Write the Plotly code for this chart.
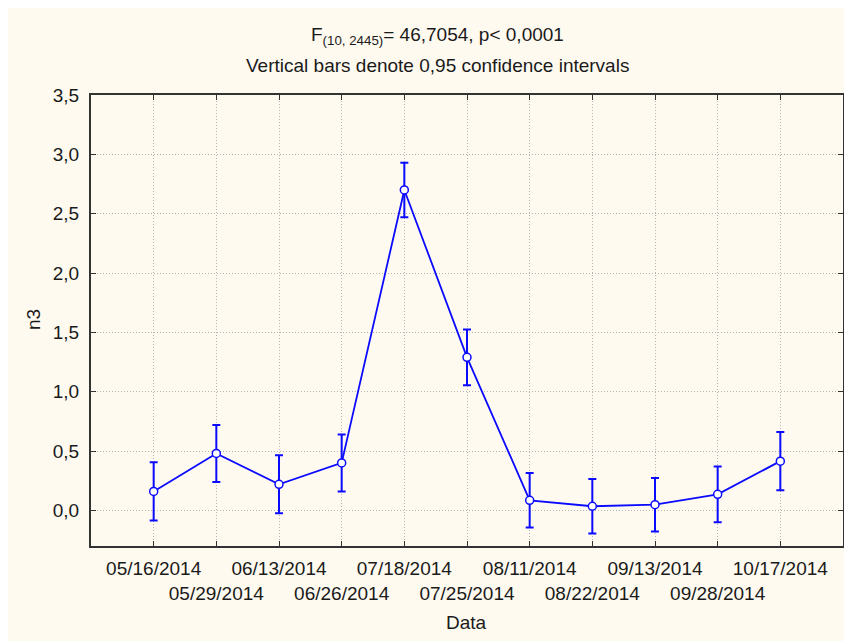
import plotly.graph_objects as go

# category labels (dates) and the means with 0.95 CI half-widths
dates = ["05/16/2014", "05/29/2014", "06/13/2014", "06/26/2014", "07/18/2014",
         "07/25/2014", "08/11/2014", "08/22/2014", "09/13/2014", "09/28/2014",
         "10/17/2014"]
n3_mean = [0.16, 0.48, 0.22, 0.40, 2.70, 1.29, 0.085, 0.035, 0.048, 0.135, 0.415]
n3_ci = [0.245, 0.24, 0.245, 0.24, 0.23, 0.235, 0.23, 0.23, 0.225, 0.235, 0.245]
y_ticks = [0, 0.5, 1.0, 1.5, 2.0, 2.5, 3.0, 3.5]
y_ticktext = ["0,0", "0,5", "1,0", "1,5", "2,0", "2,5", "3,0", "3,5"]

# the page body adds an 8px margin, so the figure is laid out 8px smaller
OFF = 8
W, H = 852 - OFF, 641 - OFF
L, R, T, B = 91 - OFF, 9, 95 - OFF, 95
pw, ph = W - L - R, H - T - B

BLUE = "#0a0aff"
FONT = "Liberation Sans, Arial, sans-serif"
TXT = "#1a1a1a"
FS = 19

xpos = list(range(len(dates)))
# stagger labels on two rows like the original
tick_labels = [d if i % 2 == 0 else "<br>" + d for i, d in enumerate(dates)]

fig = go.Figure()
fig.add_trace(go.Scatter(
    x=xpos, y=n3_mean,
    mode="lines+markers",
    line=dict(color=BLUE, width=1.8),
    marker=dict(symbol="circle", size=8, color="white",
                line=dict(color=BLUE, width=1.5)),
    error_y=dict(type="data", array=n3_ci, visible=True,
                 color=BLUE, thickness=2, width=4),
    showlegend=False,
))


# page pixel -> paper coordinates
def px_x(p):
    return (p - OFF - L) / pw


def px_y(p):
    return 1 - (p - OFF - T) / ph


fig.add_shape(type="rect", xref="paper", yref="paper", layer="below",
              x0=px_x(8), x1=px_x(850), y0=px_y(641), y1=px_y(8),
              fillcolor="#fffaf0", line=dict(width=0))

texts = [
    (437, 36, "F<sub>(10, 2445)</sub>= 46,7054, p< 0,0001", 0),
    (437, 65, "Vertical bars denote 0,95 confidence intervals", 0),
    (466, 622, "Data", 0),
    (33, 320, "n3", -90),
]
for x, y, t, ang in texts:
    fig.add_annotation(
        x=px_x(x), y=px_y(y), xref="paper", yref="paper", showarrow=False,
        xanchor="center", yanchor="middle",
        text=t, textangle=ang, font=dict(family=FONT, size=FS, color=TXT),
    )

axis_style = dict(
    tickmode="array",
    showgrid=True, gridcolor="#b4b4b4", griddash="1px,2px", gridwidth=1,
    showline=True, linecolor="#333", linewidth=2, mirror="ticks",
    ticks="inside", ticklen=5, tickcolor="#333",
    tickfont=dict(family=FONT, size=FS, color=TXT),
    zeroline=False, automargin=False,
)
fig.update_xaxes(range=[-1, 11], tickvals=xpos, ticktext=tick_labels,
                 tickangle=0, ticklabelstandoff=4, **axis_style)
fig.update_yaxes(range=[-0.3, 3.5], tickvals=y_ticks, ticktext=y_ticktext,
                 ticklabelstandoff=6, **axis_style)

fig.update_layout(
    width=W, height=H,
    margin=dict(l=L, r=R, t=T, b=B),
    paper_bgcolor="white", plot_bgcolor="white",
    font=dict(family=FONT),
)

fig.write_html("out.html")
